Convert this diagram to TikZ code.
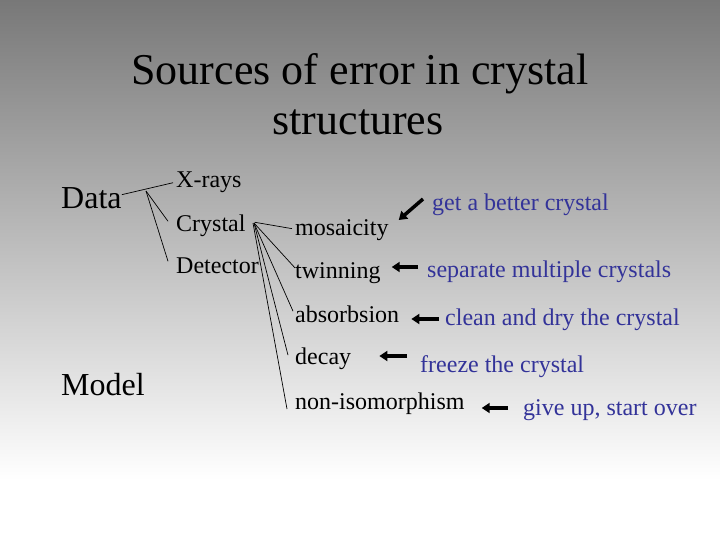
\documentclass[tikz,border=0pt]{standalone}
\usepackage{fontspec}
\setmainfont{Liberation Serif}
\usetikzlibrary{arrows.meta}
\definecolor{txtblue}{RGB}{51,51,153}
\definecolor{topgray}{RGB}{120,120,120}
\begin{document}
\begin{tikzpicture}[x=1pt,y=-1pt,
  lbl/.style={anchor=base west, inner sep=0pt, font=\fontsize{24}{28}\selectfont},
  fixlbl/.style={lbl, text=txtblue},
  big/.style={anchor=base west, inner sep=0pt, font=\fontsize{32}{36}\selectfont},
  titlelbl/.style={anchor=base, inner sep=0pt, font=\fontsize{44}{50}\selectfont},
  tree/.style={line width=0.7pt},
  fixarrow/.style={line width=3.5pt, -{Triangle[length=8pt,width=10pt]}}]
\shade[top color=topgray, bottom color=white] (0,0) rectangle (720,480);
\fill[white] (0,479.5) rectangle (720,540);
\useasboundingbox (0,0) rectangle (720,540);
% title
\node[titlelbl] (t1) at (360,85) {Sources of error in crystal};
\node[titlelbl] (t2) at (358,135) {structures};
% left column
\node[big] (data) at (61,209) {Data};
\node[big] (model) at (61,395) {Model};
% second column
\node[lbl] (xrays) at (176,188) {X-rays};
\node[lbl] (crystal) at (176,231) {Crystal};
\node[lbl] (detector) at (176,273) {Detector};
% third column
\node[lbl] (mosa) at (295,236) {mosaicity};
\node[lbl] (twin) at (295,278) {twinning};
\node[lbl] (absb) at (295,322) {absorbsion};
\node[lbl] (decay) at (295,364) {decay};
\node[lbl] (noniso) at (295,409) {non-isomorphism};
% remedies
\node[fixlbl] (better) at (432,211) {get a better crystal};
\node[fixlbl] (separate) at (427,277) {separate multiple crystals};
\node[fixlbl] (clean) at (445,325) {clean and dry the crystal};
\node[fixlbl] (freeze) at (420,372) {freeze the crystal};
\node[fixlbl] (giveup) at (523,415) {give up, start over};
% tree lines
\coordinate (dj) at (146,191);
\coordinate (cj) at (254,223);
\draw[tree] ([yshift=4pt]data.east) -- ([xshift=-3pt]xrays.west);
\draw[tree] (dj) -- ([shift={(-8pt,4pt)}]crystal.west);
\draw[tree] (dj) -- ([shift={(-8pt,4pt)}]detector.west);
\draw[tree] ([xshift=9pt,yshift=3pt]crystal.east) -- ([shift={(-3pt,2pt)}]mosa.west);
\draw[tree] (cj) -- ([yshift=-6pt]twin.north west);
\draw[tree] (cj) -- ([xshift=-2pt,yshift=-6pt]absb.north west);
\draw[tree] (cj) -- ([xshift=-7pt,yshift=-8pt]decay.north west);
\draw[tree] ([xshift=-1pt]cj) -- ([xshift=-8pt]noniso.base west);
% arrows
\draw[fixarrow] ([shift={(-9pt,12pt)}]better.base west) -- ([shift={(10pt,16pt)}]mosa.base east);
\draw[fixarrow] ([shift={(-9pt,10pt)}]separate.base west) -- ([shift={(11pt,11pt)}]twin.base east);
\draw[fixarrow] ([shift={(-6pt,6pt)}]clean.base west) -- ([shift={(12pt,3pt)}]absb.base east);
\draw[fixarrow] ([shift={(-13pt,16pt)}]freeze.base west) -- ([shift={(28pt,8pt)}]decay.base east);
\draw[fixarrow] ([shift={(-15pt,7pt)}]giveup.base west) -- ([shift={(17pt,1pt)}]noniso.base east);
\end{tikzpicture}
\end{document}
